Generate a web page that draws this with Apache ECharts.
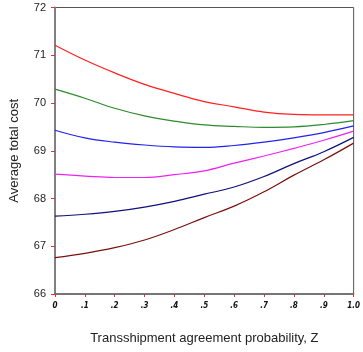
<!DOCTYPE html>
<html>
<head>
<meta charset="utf-8">
<script src="https://cdn.jsdelivr.net/npm/echarts@6/dist/echarts.min.js"></script>
<style>
  html, body { margin: 0; padding: 0; background: #fff; }
  #chart { width: 363px; height: 352px; }
</style>
</head>
<body>
<div id="chart"></div>
<script>
// Transshipment agreement probability Z (x axis tick labels)
const zLabels = ['0', '.1', '.2', '.3', '.4', '.5', '.6', '.7', '.8', '.9', '1.0'];

// Average total cost curves, one value per Z step
const costRed     = [71.21, 70.90, 70.63, 70.39, 70.20, 70.03, 69.92, 69.81, 69.76, 69.75, 69.75];
const costGreen   = [70.29, 70.10, 69.89, 69.73, 69.62, 69.54, 69.51, 69.49, 69.50, 69.55, 69.63];
const costBlue    = [69.43, 69.27, 69.18, 69.12, 69.08, 69.07, 69.11, 69.18, 69.27, 69.38, 69.52];
const costMagenta = [68.51, 68.47, 68.44, 68.44, 68.50, 68.58, 68.74, 68.89, 69.05, 69.22, 69.41];
const costNavy    = [67.63, 67.67, 67.73, 67.82, 67.94, 68.09, 68.24, 68.46, 68.73, 68.98, 69.28];
const costMaroon  = [66.76, 66.85, 66.97, 67.13, 67.35, 67.60, 67.84, 68.14, 68.49, 68.81, 69.16];

const curves = [
  { data: costRed,     color: '#ff2020' },
  { data: costGreen,   color: '#2e8b2e' },
  { data: costBlue,    color: '#2222ee' },
  { data: costMagenta, color: '#ee22ee' },
  { data: costNavy,    color: '#10107a' },
  { data: costMaroon,  color: '#7a1010' }
];

const chart = echarts.init(document.getElementById('chart'), null, { renderer: 'canvas' });

chart.setOption({
  animation: false,
  backgroundColor: '#ffffff',
  grid: {
    left: 51, right: 2, top: 7.5, bottom: 58,
    show: true, borderColor: '#555555', borderWidth: 1, backgroundColor: 'transparent'
  },
  xAxis: {
    type: 'category',
    data: zLabels,
    boundaryGap: false,
    name: 'Transshipment agreement probability, Z',
    nameLocation: 'middle',
    nameGap: 38,
    nameTextStyle: { fontFamily: 'Liberation Sans, Arial', fontSize: 13, color: '#222' },
    axisLine: { lineStyle: { color: '#666666', width: 1.5 } },
    axisTick: { alignWithLabel: true, length: 3, lineStyle: { color: '#e03030' } },
    axisLabel: {
      fontFamily: 'DejaVu Sans Condensed, DejaVu Sans', fontSize: 8, fontWeight: 'bold',
      fontStyle: 'italic', color: '#111', margin: 8, interval: 0
    },
    splitLine: { show: false }
  },
  yAxis: {
    type: 'value',
    min: 66, max: 72, interval: 1,
    name: 'Average total cost',
    nameLocation: 'middle',
    nameGap: 34,
    nameRotate: 90,
    nameTextStyle: { fontFamily: 'Liberation Sans, Arial', fontSize: 13, color: '#222' },
    axisLine: { show: true, lineStyle: { color: '#808080', width: 2 } },
    axisTick: { show: true, length: 4, lineStyle: { color: '#e03030' } },
    axisLabel: { fontFamily: 'Liberation Sans, Arial', fontSize: 11, color: '#222', margin: 9 },
    splitLine: { show: false }
  },
  series: curves.map(c => ({
    type: 'line',
    data: c.data,
    smooth: 0.4,
    symbol: 'none',
    lineStyle: { color: c.color, width: 1.2 }
  }))
});
</script>
</body>
</html>
